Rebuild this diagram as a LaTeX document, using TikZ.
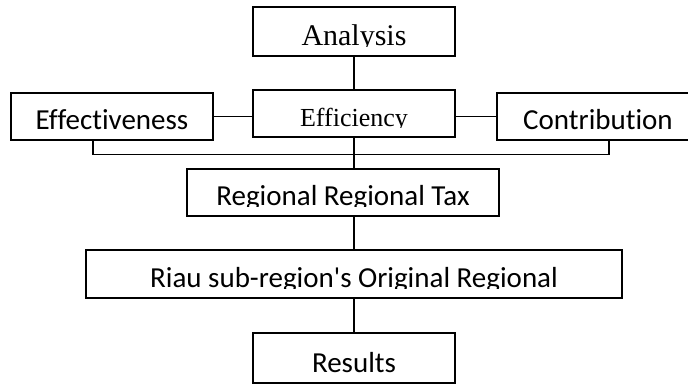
\documentclass[tikz,border=0pt]{standalone}
\usepackage{fontspec}
\newfontfamily\sansface[Ligatures=NoCommon]{Carlito}
\newfontfamily\serifface{Liberation Serif}
\newcommand{\sanslabel}{\sansface\fontsize{29}{30}\selectfont}
\newcommand{\seriflabel}{\serifface\fontsize{26}{28}\selectfont}

\begin{document}
\begin{tikzpicture}[x=1pt, y=-1pt, line width=1.3pt,
    box/.style={draw, inner sep=0pt, minimum width=202pt, minimum height=47pt},
    txt/.style 2 args={path picture={
        \clip ([yshift=9.5pt]path picture bounding box.south west) rectangle (path picture bounding box.north east);
        \node [anchor=base, inner sep=0pt, font=#1] at ([yshift=10.5pt]path picture bounding box.south) {#2};}}]
    \useasboundingbox (0,0) rectangle (688,385);

    \node [box, minimum height=49pt, txt={\serifface\fontsize{30}{32}\selectfont}{Analysis}] (analysis) at (354,31.5) {};
    \node [box, txt={\seriflabel}{Efficiency}] (efficiency) at (354,113.5) {};
    \node [box, txt={\sanslabel}{Effectiveness}] (effectiveness) at (112,116.5) {};
    \node [box, txt={\sanslabel}{Contribution}] (contribution) at (598,116.5) {};

    \node [box, minimum width=312pt, txt={\sanslabel}{Regional Regional Tax}] (tax) at (343,192.5) {};
    \node [box, minimum width=536pt, minimum height=48pt, txt={\sanslabel}{Riau sub-region's Original Regional}] (pad) at (354,274) {};
    \node [box, minimum height=50pt, txt={\sanslabel}{Results}] (results) at (354,358) {};

    \draw (analysis) -- (efficiency);
    \draw (effectiveness.east) -- (effectiveness.east -| efficiency.west);
    \draw (contribution.west -| efficiency.east) -- (contribution.west);
    \draw ([xshift=-19pt]effectiveness.south) -- ++(0,14) -| ([xshift=11pt]contribution.south);
    \draw (efficiency.south) -- (efficiency.south |- tax.north);
    \draw (pad.north |- tax.south) -- (pad.north);
    \draw (pad) -- (results);
\end{tikzpicture}
\end{document}
